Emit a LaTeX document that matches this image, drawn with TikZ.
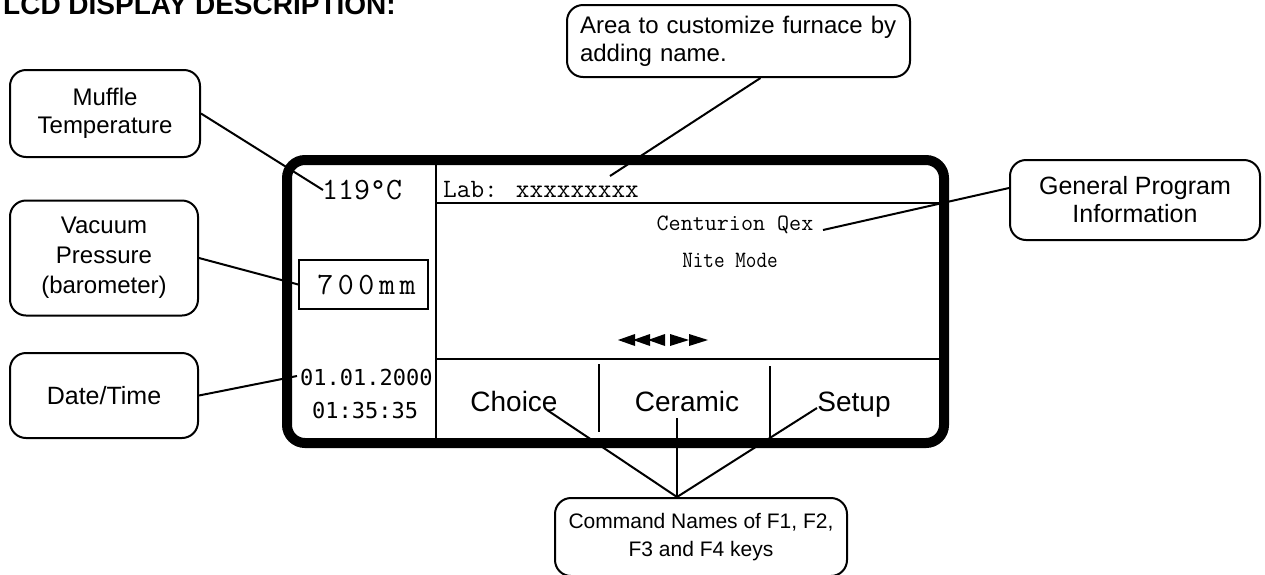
\documentclass[tikz,border=0pt]{standalone}
\usepackage{fontspec}
\setmainfont{Liberation Sans}
\newfontfamily\lcdmono{Latin Modern Mono}
\newfontfamily\lcdcond[FakeStretch=0.88]{Latin Modern Mono}
\newfontfamily\lcddig{DejaVu Sans Mono}
\newfontfamily\lcdspaced[LetterSpace=15]{Latin Modern Mono}
\usetikzlibrary{calc}
\begin{document}
\begin{tikzpicture}[x=1pt,y=-1pt,
  callout/.style={draw, line width=2pt, rounded corners=16pt, align=center,
    font=\fontsize{24}{28}\selectfont, inner sep=0pt},
  lead/.style={line width=2pt},
  rule/.style={line width=2pt},
  lcdtext/.style={inner sep=0pt},
  cmdtext/.style={inner sep=0pt, anchor=base, font=\fontsize{28}{28}\selectfont}]
\clip (0,0) rectangle (1265,574);

% title (cut off at top in the reference)
\node[anchor=base west, inner sep=0pt, font=\bfseries\fontsize{28}{28}\selectfont] (title) at (3,14) {LCD DISPLAY DESCRIPTION:};

% display frame
\draw[line width=10pt, rounded corners=18pt] (287,160) rectangle (944,443);
\draw[rule] (436,160) -- (436,443);
\draw[rule] (436,203) -- (942,203);
\draw[rule] (436,359) -- (942,359);
\draw[rule] (599,364) -- (599,432);
\draw[rule] (770,366) -- (770,438);

% display texts
\node[lcdtext, anchor=base west, font=\lcdmono\fontsize{31}{31}\selectfont] (t119) at (322,199) {119°C};
\node[lcdtext, anchor=base west, font=\lcdmono\fontsize{26.5}{26.5}\selectfont] (lab) at (443,197) {Lab: xxxxxxxxx};
\node[lcdtext, anchor=base, font=\lcdmono\fontsize{23.4}{23.4}\selectfont] (cent) at (735,230) {Centurion Qex};
\node[lcdtext, anchor=base, font=\lcdcond\fontsize{23.4}{23.4}\selectfont] (nite) at (730,267) {Nite Mode};
\node[draw, line width=1.5pt, minimum width=129pt, minimum height=49pt, inner sep=0pt,
  font=\lcdspaced\fontsize{31}{31}\selectfont] (box700) at (363.5,284.5) {\hspace*{6pt}700mm};
\node[lcdtext, anchor=base west, font=\lcddig\fontsize{22}{22}\selectfont] (date) at (300,385) {01.01.2000};
\node[lcdtext, anchor=base west, font=\lcddig\fontsize{22}{22}\selectfont] (time) at (312,418) {01:35:35};
\node[cmdtext] (choice) at (514,411) {Choice};
\node[cmdtext] (ceramic) at (687,411) {Ceramic};
\node[cmdtext] (setup) at (854,411) {Setup};

% arrows
\fill (618,340) -- (635,334) -- (635,346) -- cycle;
\fill (633,340) -- (650,334) -- (650,346) -- cycle;
\fill (648,340) -- (665,334) -- (665,346) -- cycle;
\fill (689,340) -- (670,334) -- (670,346) -- cycle;
\fill (708,340) -- (689,334) -- (689,346) -- cycle;

% callouts
\node[callout, minimum width=190pt, minimum height=87pt] (muffle) at (105,113.5) {Muffle\\Temperature};
\node[callout, minimum width=188pt, minimum height=115pt, font=\fontsize{24}{30}\selectfont] (vacuum) at (104,258) {Vacuum\\Pressure\\(barometer)};
\node[callout, minimum width=188pt, minimum height=85pt, font=\fontsize{25}{28}\selectfont] (datebox) at (104,395.5) {Date/Time};
\node[callout, minimum width=343pt, minimum height=72pt, text width=317pt, align=left] (area) at (738.5,41) {Area to customize furnace by\\adding name.};
\node[callout, minimum width=250pt, minimum height=80pt, font=\fontsize{25}{28}\selectfont] (general) at (1135,200) {General Program\\Information};
\node[callout, minimum width=292pt, minimum height=78pt, font=\fontsize{21}{28}\selectfont] (command) at (701,537) {Command Names of F1, F2,\\F3 and F4 keys};

% lead end points
\coordinate (tempPt) at (323,190);
\coordinate (datePt) at (297,376);
\coordinate (labPt) at (610,176);
\coordinate (centPt) at (823,230);
\coordinate (choicePt) at (547,410);
\coordinate (ceramicPt) at (677,418);
\coordinate (setupPt) at (817,408);
\coordinate (apex) at ($(command.north)+(-24,0)$);

% leads
\draw[lead] (muffle.east) -- (tempPt);
\draw[lead] (vacuum.east) -- (box700.west);
\draw[lead] (datebox.east) -- (datePt);
\draw[lead] ($(area.south)+(22,0)$) -- (labPt);
\draw[lead] ($(general.west)+(0,-12)$) -- (centPt);
\draw[lead] (choicePt) -- (apex);
\draw[lead] (ceramicPt) -- (apex);
\draw[lead] (setupPt) -- (apex);
\end{tikzpicture}
\end{document}
